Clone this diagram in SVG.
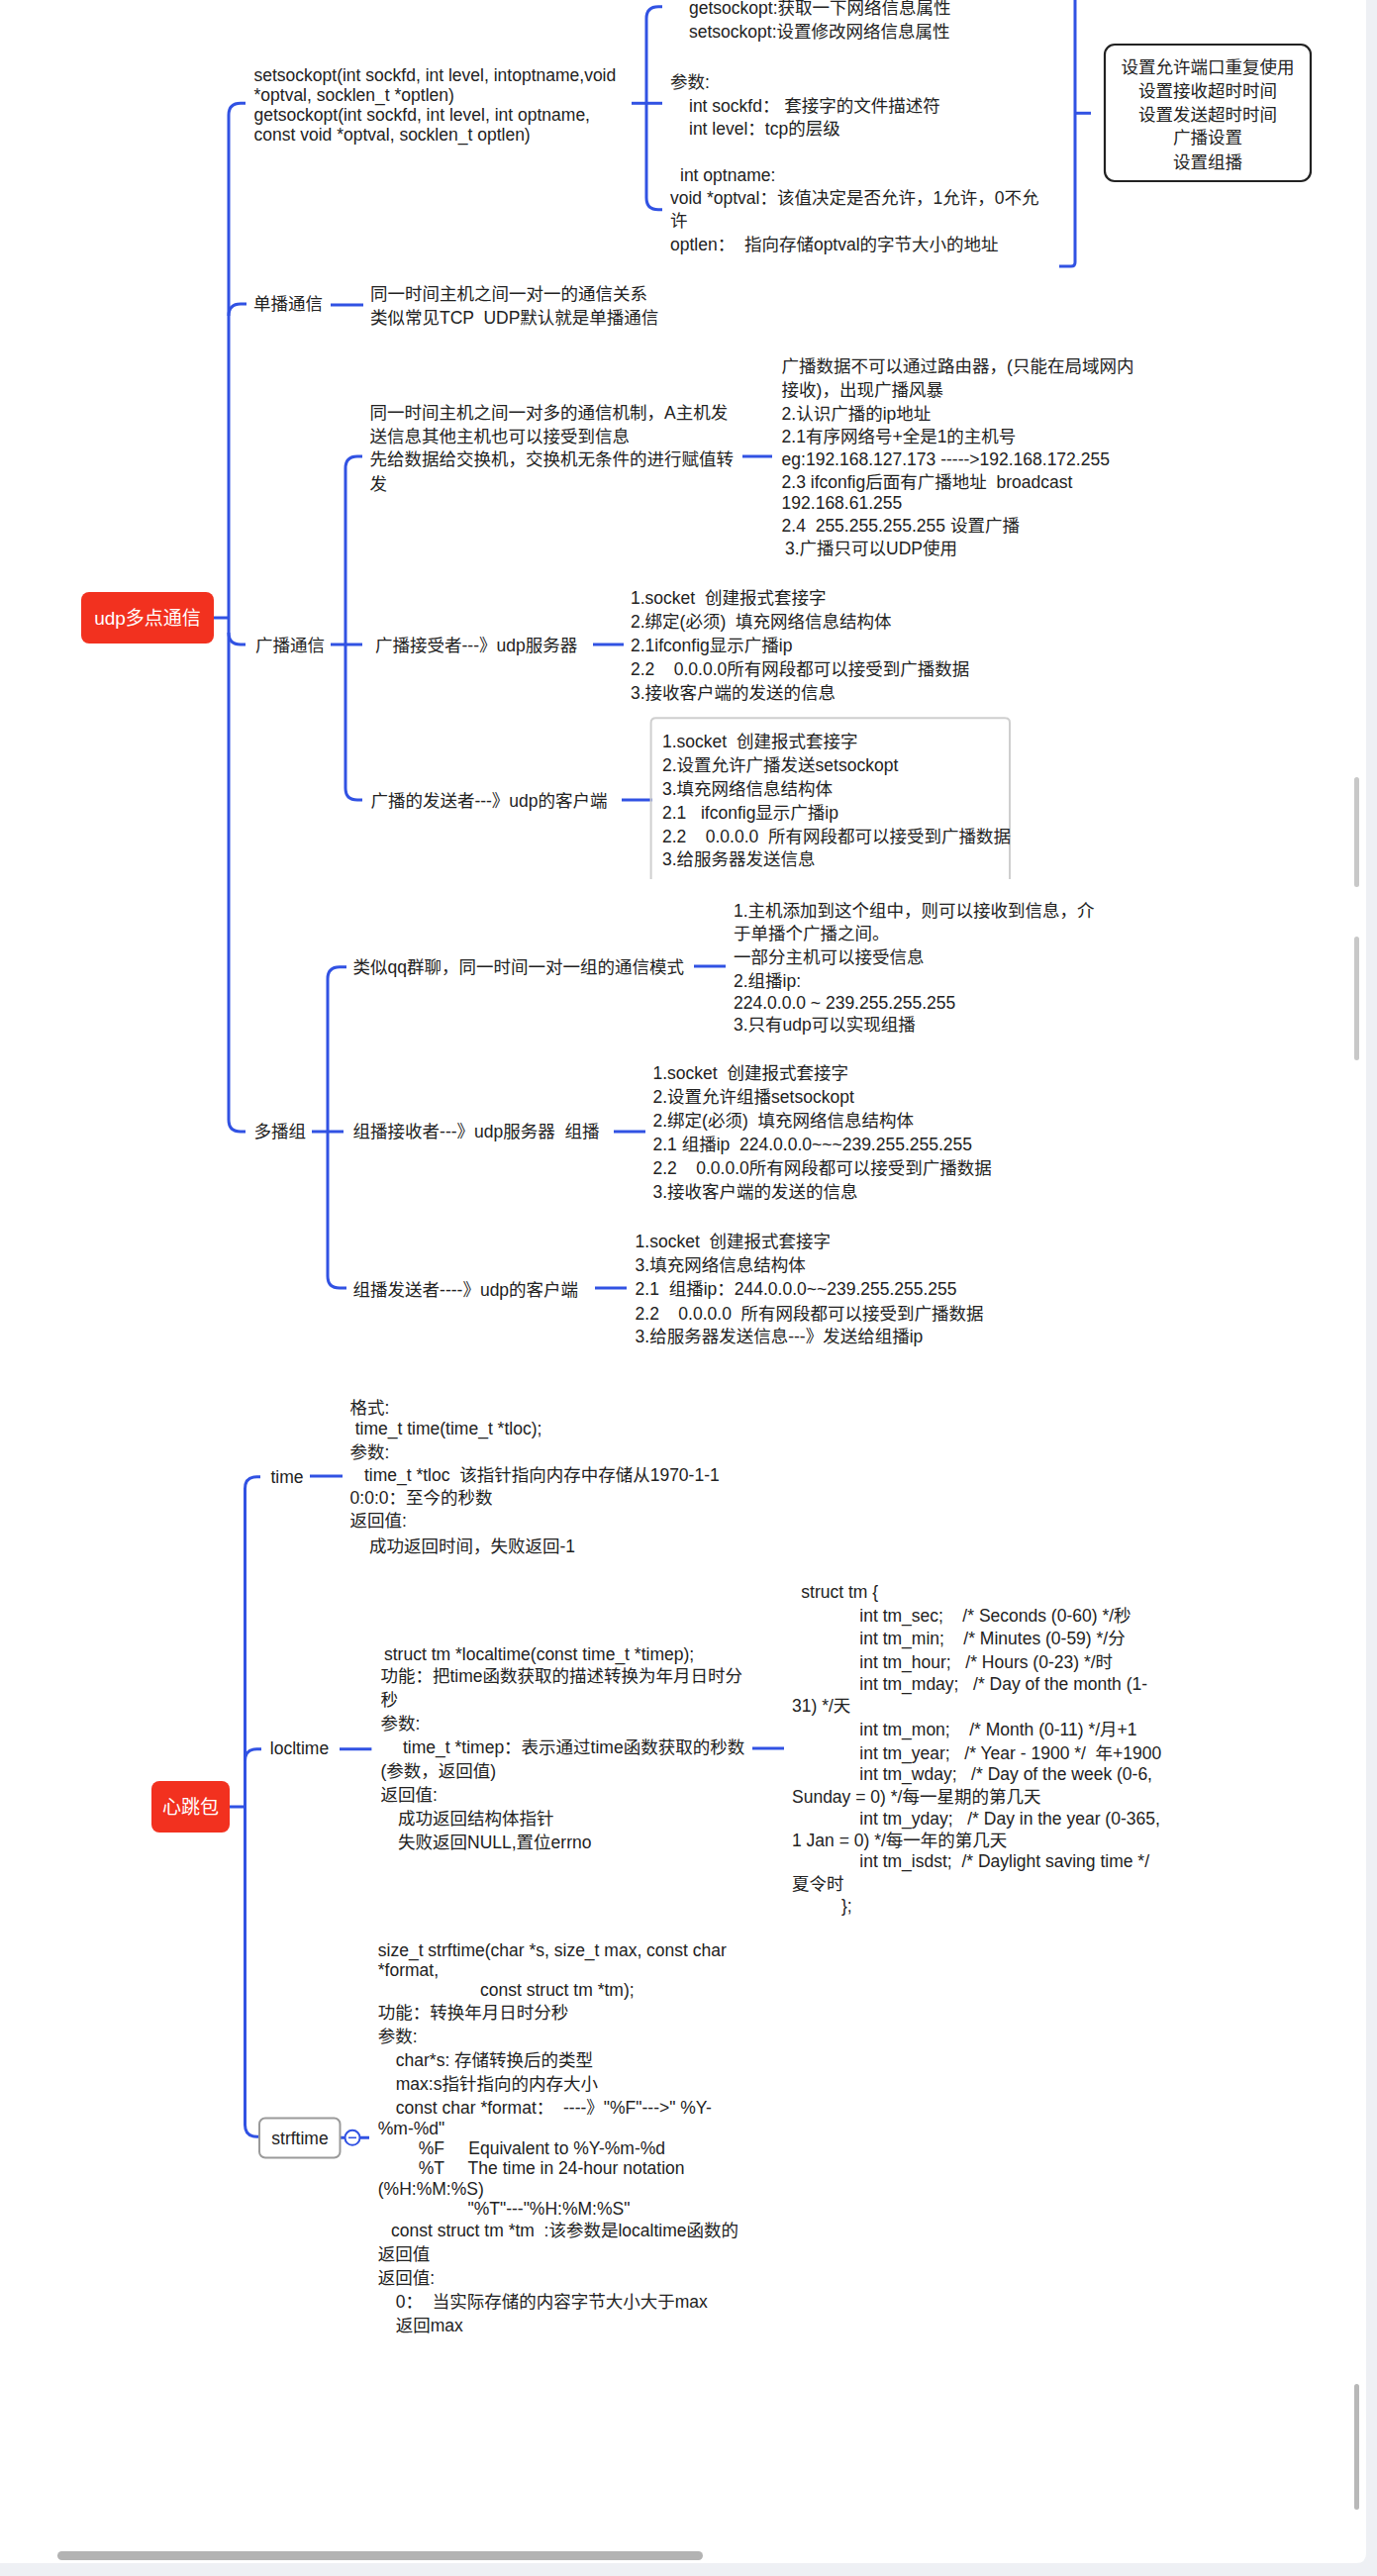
<svg xmlns="http://www.w3.org/2000/svg" width="1391" height="2602" viewBox="0 0 1391 2602" xml:space="preserve">
<style>
text{font-family:"Liberation Sans","Noto Sans CJK SC",sans-serif;font-size:17.5px;fill:#222;white-space:pre}
.w{fill:#fff;font-size:19px}
.m{text-anchor:middle}
.c{fill:none;stroke:#3152e3;stroke-width:3}
.root{fill:#f2311f}
</style>
<rect x="0" y="0" width="1391" height="2602" fill="#eef0f4"/>
<path d="M0 0 H1380 V2579 Q1380 2589 1370 2589 H0 Z" fill="#fff"/>
<rect x="1368" y="2408" width="5" height="127" rx="2.5" fill="#b8b8b8"/>
<rect x="1368" y="785" width="5" height="111" rx="2.5" fill="#c8c8c8"/>
<rect x="1368" y="946" width="5" height="125" rx="2.5" fill="#c8c8c8"/>
<rect x="58" y="2577" width="652" height="9" rx="4.5" fill="#b3b3b3"/>

<g id="connectors">
<path class="c" d="M216 624 H231"/>
<path class="c" d="M248 104.3 H243 Q231 104.3 231 116.3 V1131 Q231 1143 243 1143 H248"/>
<path class="c" d="M231 319 Q231 307 243 307 H249"/>
<path class="c" d="M231 639 Q231 651 243 651 H248"/>
<path class="c" d="M638 104.3 H669"/>
<path class="c" d="M669 6.7 H665 Q653 6.7 653 18.7 V199.7 Q653 211.7 665 211.7 H669"/>
<path class="c" d="M1086 -40 V265 Q1086 269 1082 269 H1070"/>
<path class="c" d="M1086 114.3 H1102"/>
<path class="c" d="M334 308 H367"/>
<path class="c" d="M334 651 H366"/>
<path class="c" d="M366 461 H361 Q349 461 349 473 V796 Q349 808 361 808 H366"/>
<path class="c" d="M750 461 H780"/>
<path class="c" d="M599 651 H630"/>
<path class="c" d="M628 808 H659"/>
<path class="c" d="M315 1143 H347"/>
<path class="c" d="M350 976.7 H343 Q331 976.7 331 988.7 V1289 Q331 1301 343 1301 H350"/>
<path class="c" d="M701 976 H733"/>
<path class="c" d="M620 1143 H652"/>
<path class="c" d="M601 1301 H633"/>
<path class="c" d="M232 1825 H247.5"/>
<path class="c" d="M263 1491.7 H259.5 Q247.5 1491.7 247.5 1503.7 V2146.3 Q247.5 2158.3 259.5 2158.3 H262"/>
<path class="c" d="M247.5 1778.7 Q247.5 1766.7 259.5 1766.7 H264"/>
<path class="c" d="M313 1491 H346"/>
<path class="c" d="M343 1766.7 H375.4"/>
<path class="c" d="M760 1766 H792"/>
<path class="c" d="M343.5 2159.3 H348.5 M363.5 2159.3 H373" stroke-width="2.5"/>
<circle cx="356" cy="2159.3" r="7.5" fill="#fff" stroke="#3152e3" stroke-width="2"/>
<path d="M352 2159.3 H360" stroke="#3152e3" stroke-width="1.6"/>
</g>

<g id="root-udp">
<rect class="root" x="82" y="598" width="134" height="52" rx="8"/>
<text class="w m" x="149" y="631">udp多点通信</text>
</g>

<g id="node-setsockopt">
<text x="256.5" y="82">setsockopt(int sockfd, int level, intoptname,void</text>
<text x="256.5" y="102">*optval, socklen_t *optlen)</text>
<text x="256.5" y="122">getsockopt(int sockfd, int level, int optname,</text>
<text x="256.5" y="142">const void *optval, socklen_t optlen)</text>
</g>

<g id="node-sockopt-desc">
<text x="696" y="14.3">getsockopt:获取一下网络信息属性</text>
<text x="696" y="38.3">setsockopt:设置修改网络信息属性</text>
<text x="677" y="89.3">参数:</text>
<text x="696" y="112.7">int sockfd： 套接字的文件描述符</text>
<text x="696" y="136">int level：tcp的层级</text>
<text x="687" y="182.7">int optname:</text>
<text x="677" y="206">void *optval：该值决定是否允许，1允许，0不允</text>
<text x="677" y="229.3">许</text>
<text x="677" y="253.3">optlen：  指向存储optval的字节大小的地址</text>
</g>

<g id="summary-box">
<rect x="1116" y="45" width="208" height="138" rx="10" fill="#fff" stroke="#222" stroke-width="2.2"/>
<text class="m" x="1220" y="74.3">设置允许端口重复使用</text>
<text class="m" x="1220" y="97.7">设置接收超时时间</text>
<text class="m" x="1220" y="121.7">设置发送超时时间</text>
<text class="m" x="1220" y="145.3">广播设置</text>
<text class="m" x="1220" y="170">设置组播</text>
</g>

<g id="node-unicast">
<text x="256" y="313">单播通信</text>
</g>
<g id="node-unicast-desc">
<text x="374" y="303">同一时间主机之间一对一的通信关系</text>
<text x="374" y="327">类似常见TCP  UDP默认就是单播通信</text>
</g>

<g id="node-broadcast">
<text x="258" y="657.7">广播通信</text>
</g>
<g id="node-broadcast-desc">
<text x="373.6" y="422.7">同一时间主机之间一对多的通信机制，A主机发</text>
<text x="373.6" y="447">送信息其他主机也可以接受到信息</text>
<text x="373.6" y="470.3">先给数据给交换机，交换机无条件的进行赋值转</text>
<text x="373.6" y="495.3">发</text>
</g>
<g id="node-broadcast-info">
<text x="789.6" y="376">广播数据不可以通过路由器，(只能在局域网内</text>
<text x="789.6" y="400">接收)，出现广播风暴</text>
<text x="789.6" y="423.5">2.认识广播的ip地址</text>
<text x="789.6" y="447">2.1有序网络号+全是1的主机号</text>
<text x="789.6" y="469.5">eg:192.168.127.173 ----->192.168.172.255</text>
<text x="789.6" y="492.5">2.3 ifconfig后面有广播地址  broadcast</text>
<text x="789.6" y="514">192.168.61.255</text>
<text x="789.6" y="536.5">2.4  255.255.255.255 设置广播</text>
<text x="793" y="559.5">3.广播只可以UDP使用</text>
</g>
<g id="node-bc-receiver">
<text x="379" y="657.7">广播接受者---》udp服务器</text>
</g>
<g id="node-bc-receiver-steps">
<text x="637" y="610.3">1.socket  创建报式套接字</text>
<text x="637" y="634.3">2.绑定(必须)  填充网络信息结构体</text>
<text x="637" y="658.3">2.1ifconfig显示广播ip</text>
<text x="637" y="682">2.2    0.0.0.0所有网段都可以接受到广播数据</text>
<text x="637" y="706">3.接收客户端的发送的信息</text>
</g>
<g id="node-bc-sender">
<text x="374.4" y="815.3">广播的发送者---》udp的客户端</text>
</g>
<g id="node-bc-sender-steps">
<path d="M657.6 888 V730 Q657.6 725.3 662.6 725.3 H1015 Q1020 725.3 1020 730 V888" fill="none" stroke="#cfcfcf" stroke-width="2"/>
<text x="669" y="755">1.socket  创建报式套接字</text>
<text x="669" y="779.3">2.设置允许广播发送setsockopt</text>
<text x="669" y="803.3">3.填充网络信息结构体</text>
<text x="669" y="826.7">2.1   ifconfig显示广播ip</text>
<text x="669" y="851">2.2    0.0.0.0  所有网段都可以接受到广播数据</text>
<text x="669" y="874.3">3.给服务器发送信息</text>
</g>

<g id="node-multicast">
<text x="256.4" y="1149.3">多播组</text>
</g>
<g id="node-mc-desc">
<text x="356.6" y="982.7">类似qq群聊，同一时间一对一组的通信模式</text>
</g>
<g id="node-mc-info">
<text x="741" y="925.5">1.主机添加到这个组中，则可以接收到信息，介</text>
<text x="741" y="949">于单播个广播之间。</text>
<text x="741" y="973">一部分主机可以接受信息</text>
<text x="741" y="996.5">2.组播ip:</text>
<text x="741" y="1018.5">224.0.0.0 ~ 239.255.255.255</text>
<text x="741" y="1041">3.只有udp可以实现组播</text>
</g>
<g id="node-mc-receiver">
<text x="356.6" y="1149.3">组播接收者---》udp服务器  组播</text>
</g>
<g id="node-mc-receiver-steps">
<text x="659.5" y="1090">1.socket  创建报式套接字</text>
<text x="659.5" y="1114.3">2.设置允许组播setsockopt</text>
<text x="659.5" y="1138.3">2.绑定(必须)  填充网络信息结构体</text>
<text x="659.5" y="1162">2.1 组播ip  224.0.0.0~~~239.255.255.255</text>
<text x="659.5" y="1186">2.2    0.0.0.0所有网段都可以接受到广播数据</text>
<text x="659.5" y="1210">3.接收客户端的发送的信息</text>
</g>
<g id="node-mc-sender">
<text x="356.6" y="1308.7">组播发送者----》udp的客户端</text>
</g>
<g id="node-mc-sender-steps">
<text x="641.6" y="1260">1.socket  创建报式套接字</text>
<text x="641.6" y="1284.3">3.填充网络信息结构体</text>
<text x="641.6" y="1307.7">2.1  组播ip：244.0.0.0~~239.255.255.255</text>
<text x="641.6" y="1332.7">2.2    0.0.0.0  所有网段都可以接受到广播数据</text>
<text x="641.6" y="1356">3.给服务器发送信息---》发送给组播ip</text>
</g>

<g id="root-heartbeat">
<rect class="root" x="153" y="1799" width="79" height="52" rx="8"/>
<text class="w m" x="192.5" y="1832">心跳包</text>
</g>

<g id="node-time">
<text x="273.5" y="1497.7">time</text>
</g>
<g id="node-time-desc">
<text x="353.6" y="1427.7">格式:</text>
<text x="358.7" y="1448.7">time_t time(time_t *tloc);</text>
<text x="353.6" y="1472.7">参数:</text>
<text x="367.9" y="1496">time_t *tloc  该指针指向内存中存储从1970-1-1</text>
<text x="353.6" y="1519.3">0:0:0：至今的秒数</text>
<text x="353.6" y="1542">返回值:</text>
<text x="373" y="1567.7">成功返回时间，失败返回-1</text>
</g>

<g id="node-localtime">
<text x="272.8" y="1772">locltime</text>
</g>
<g id="node-localtime-desc">
<text x="388" y="1676.7">struct tm *localtime(const time_t *timep);</text>
<text x="384.4" y="1699.3">功能：把time函数获取的描述转换为年月日时分</text>
<text x="384.4" y="1722.7">秒</text>
<text x="384.4" y="1747">参数:</text>
<text x="407" y="1771">time_t *timep：表示通过time函数获取的秒数</text>
<text x="384.4" y="1795.3">(参数，返回值)</text>
<text x="384.4" y="1818.7">返回值:</text>
<text x="402" y="1842.7">成功返回结构体指针</text>
<text x="402" y="1867">失败返回NULL,置位errno</text>
</g>
<g id="node-struct-tm">
<text x="809.3" y="1614.3">struct tm {</text>
<text x="868.3" y="1637.7">int tm_sec;    /* Seconds (0-60) */秒</text>
<text x="868.3" y="1661">int tm_min;    /* Minutes (0-59) */分</text>
<text x="868.3" y="1685">int tm_hour;   /* Hours (0-23) */时</text>
<text x="868.3" y="1706.7">int tm_mday;   /* Day of the month (1-</text>
<text x="800" y="1729.3">31) */天</text>
<text x="868.3" y="1752.7">int tm_mon;    /* Month (0-11) */月+1</text>
<text x="868.3" y="1776.7">int tm_year;   /* Year - 1900 */  年+1900</text>
<text x="868.3" y="1798.3">int tm_wday;   /* Day of the week (0-6,</text>
<text x="800" y="1821">Sunday = 0) */每一星期的第几天</text>
<text x="868.3" y="1842.7">int tm_yday;   /* Day in the year (0-365,</text>
<text x="800" y="1865">1 Jan = 0) */每一年的第几天</text>
<text x="868.3" y="1886">int tm_isdst;  /* Daylight saving time */</text>
<text x="800" y="1908.7">夏令时</text>
<text x="850" y="1931">};</text>
</g>

<g id="node-strftime">
<rect x="262" y="2139.5" width="81.5" height="40" rx="6" fill="#fff" stroke="#9a9a9a" stroke-width="2"/>
<text class="m" x="303" y="2166">strftime</text>
</g>
<g id="node-strftime-desc">
<text x="381.8" y="1976">size_t strftime(char *s, size_t max, const char</text>
<text x="381.8" y="1996">*format,</text>
<text x="485" y="2016">const struct tm *tm);</text>
<text x="381.8" y="2038.7">功能：转换年月日时分秒</text>
<text x="381.8" y="2062.7">参数:</text>
<text x="399.8" y="2087">char*s: 存储转换后的类型</text>
<text x="399.8" y="2111">max:s指针指向的内存大小</text>
<text x="399.8" y="2135.3">const char *format：  ----》"%F"--->" %Y-</text>
<text x="381.8" y="2156">%m-%d"</text>
<text x="422.7" y="2176">%F     Equivalent to %Y-%m-%d</text>
<text x="422.7" y="2196">%T     The time in 24-hour notation</text>
<text x="381.8" y="2216.5">(%H:%M:%S)</text>
<text x="472.5" y="2237">"%T"---"%H:%M:%S"</text>
<text x="395" y="2259.3">const struct tm *tm  :该参数是localtime函数的</text>
<text x="381.8" y="2283.3">返回值</text>
<text x="381.8" y="2307">返回值:</text>
<text x="399.8" y="2331">0：  当实际存储的内容字节大小大于max</text>
<text x="399.8" y="2355">返回max</text>
</g>
</svg>
